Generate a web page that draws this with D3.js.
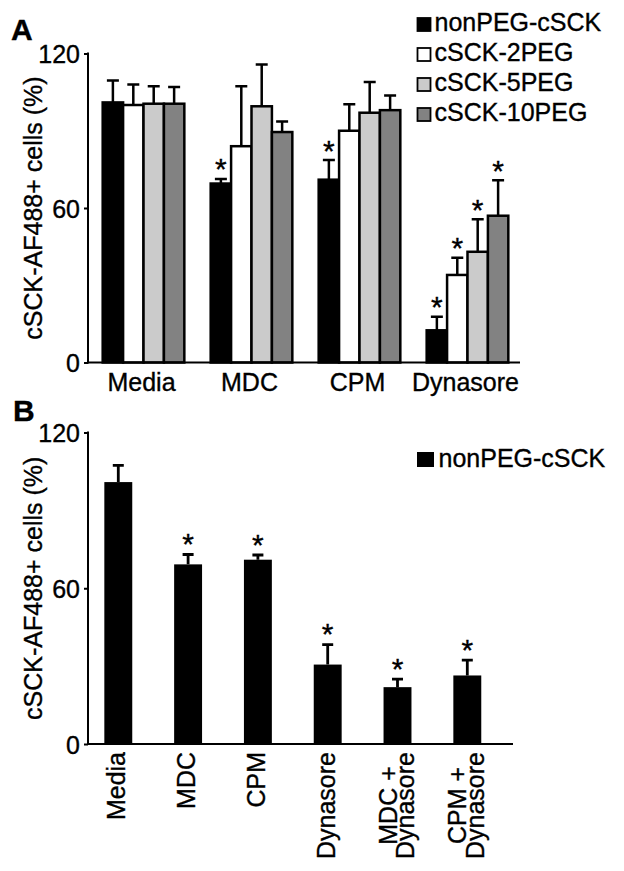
<!DOCTYPE html>
<html><head><meta charset="utf-8">
<script src="https://cdn.jsdelivr.net/npm/d3@7"></script>
<style>
html,body{margin:0;padding:0;background:#fff;}
svg text{font-family:"Liberation Sans",Arial,Helvetica,sans-serif;fill:#000;stroke:#000;stroke-width:0.35px;}
</style></head>
<body>
<svg id="chart" width="624" height="871"></svg>
<script>
// ---------- Panel A data ----------
const categoriesA = ["Media", "MDC", "CPM", "Dynasore"];
const seriesA = ["nonPEG-cSCK", "cSCK-2PEG", "cSCK-5PEG", "cSCK-10PEG"];
const seriesColorsA = ["#000000", "#ffffff", "#cbcbcb", "#828282"];
const valuesNonPEG = [101, 69.5, 71, 12.5];
const valuesPEG2 = [100, 84, 90, 34];
const valuesPEG5 = [100.5, 99.5, 97, 43];
const valuesPEG10 = [100.5, 89.5, 98, 57];
const errNonPEG = [8.5, 1.8, 7.6, 5.3];
const errPEG2 = [8, 23.3, 10.3, 6.7];
const errPEG5 = [6.8, 16.2, 11.9, 12.6];
const errPEG10 = [6.5, 4.1, 5.7, 13.8];
const sigNonPEG = [false, true, true, true];
const sigPEG2 = [false, false, false, true];
const sigPEG5 = [false, false, false, true];
const sigPEG10 = [false, false, false, true];
const yTicksA = [0, 60, 120];

// ---------- Panel B data ----------
const categoriesB = ["Media", "MDC", "CPM", "Dynasore", "MDC +|Dynasore", "CPM +|Dynasore"];
const seriesB = ["nonPEG-cSCK"];
const valuesB = [100.9, 69.2, 71, 30.6, 21.9, 26.4];
const errB = [6.4, 3.8, 1.8, 7.7, 3.1, 5.9];
const sigB = [false, true, true, true, true, true];
const yTicksB = [0, 60, 120];

const yTitle = "cSCK-AF488+ cells (%)";

const svg = d3.select("#chart");
const FS = 25;
const STAR = 30;

// ================= Panel A =================
const valsA = [valuesNonPEG, valuesPEG2, valuesPEG5, valuesPEG10];
const errsA = [errNonPEG, errPEG2, errPEG5, errPEG10];
const sigsA = [sigNonPEG, sigPEG2, sigPEG5, sigPEG10];
const rowsA = [];
categoriesA.forEach((c, ci) => seriesA.forEach((s, si) => rowsA.push({
  cat: c, ser: s, si, v: valsA[si][ci], e: errsA[si][ci], sig: sigsA[si][ci]
})));

const axXA = 88, axEndA = 520;
const yA = d3.scaleLinear().domain([0, 120]).range([362.5, 53.5]);
const x0A = d3.scaleBand().domain(categoriesA).range([88, 523]).paddingInner(0.244).paddingOuter(0.136);
const x1A = d3.scaleBand().domain(seriesA).range([0, x0A.bandwidth()]);
const colorA = d3.scaleOrdinal().domain(seriesA).range(seriesColorsA);

const gA = svg.append("g");
gA.selectAll("rect.bar").data(rowsA).join("rect")
  .attr("class", "bar")
  .attr("x", d => x0A(d.cat) + x1A(d.ser))
  .attr("y", d => yA(d.v))
  .attr("width", x1A.bandwidth())
  .attr("height", d => yA(0) - yA(d.v))
  .attr("fill", d => colorA(d.ser))
  .attr("stroke", "#000").attr("stroke-width", 2.5);
const capA = 12;
gA.selectAll("path.err").data(rowsA).join("path")
  .attr("class", "err")
  .attr("d", d => {
    const cx = x0A(d.cat) + x1A(d.ser) + x1A.bandwidth() / 2;
    const t = yA(d.v + d.e);
    return `M${cx},${yA(d.v)}V${t}M${cx - capA / 2},${t}H${cx + capA / 2}`;
  })
  .attr("stroke", "#000").attr("stroke-width", 2.5).attr("fill", "none");
gA.selectAll("text.star").data(rowsA.filter(d => d.sig)).join("text")
  .attr("class", "star")
  .attr("x", d => x0A(d.cat) + x1A(d.ser) + x1A.bandwidth() / 2)
  .attr("y", d => yA(d.v + d.e) + 0.5)
  .attr("text-anchor", "middle").attr("font-size", STAR)
  .text("*");
const yAxisA = gA.append("g").attr("transform", `translate(${axXA},0)`)
  .call(d3.axisLeft(yA).tickValues(yTicksA).tickSize(4).tickPadding(4));
yAxisA.select(".domain").remove();
yAxisA.selectAll("line").attr("stroke-width", 2);
yAxisA.selectAll("text").attr("font-size", FS).attr("dy", "0.36em")
  .style("font-family", '"Liberation Sans",Arial,sans-serif');
gA.append("line").attr("x1", axXA).attr("x2", axXA).attr("y1", yA(120) - 1).attr("y2", yA(0) + 1)
  .attr("stroke", "#000").attr("stroke-width", 2);
gA.append("line").attr("x1", axXA - 1).attr("x2", axEndA).attr("y1", yA(0)).attr("y2", yA(0))
  .attr("stroke", "#000").attr("stroke-width", 2);
gA.selectAll("text.xl").data(categoriesA).join("text")
  .attr("class", "xl")
  .attr("x", d => x0A(d) + x0A.bandwidth() / 2 - 2)
  .attr("y", 391)
  .attr("text-anchor", "middle").attr("font-size", FS)
  .text(d => d);
gA.append("text")
  .attr("transform", `translate(42,${(yA(0) + yA(120)) / 2}) rotate(-90)`)
  .attr("text-anchor", "middle").attr("font-size", FS)
  .text(yTitle);
gA.append("text").attr("x", 11).attr("y", 40).attr("font-size", 30).attr("font-weight", "bold").text("A");
const legA = gA.append("g");
seriesA.forEach((s, i) => {
  const by = 31 + i * 30;
  legA.append("rect").attr("x", 417.5).attr("y", by - 13).attr("width", 13).attr("height", 13)
    .attr("fill", colorA(s)).attr("stroke", "#000").attr("stroke-width", 1.8);
  legA.append("text").attr("x", 434.5).attr("y", by).attr("font-size", FS).text(s);
});

// ================= Panel B =================
const rowsB = categoriesB.map((c, i) => ({ cat: c, v: valuesB[i], e: errB[i], sig: sigB[i] }));
const axXB = 88, axEndB = 513;
const yB = d3.scaleLinear().domain([0, 120]).range([744, 432.5]);
const xB = d3.scaleBand().domain(categoriesB).range([88, 497.6]).paddingInner(0.6).paddingOuter(0.234);

const gB = svg.append("g");
gB.selectAll("rect.bar").data(rowsB).join("rect")
  .attr("class", "bar")
  .attr("x", d => xB(d.cat))
  .attr("y", d => yB(d.v))
  .attr("width", xB.bandwidth())
  .attr("height", d => yB(0) - yB(d.v))
  .attr("fill", "#000");
const capB = 11;
gB.selectAll("path.err").data(rowsB).join("path")
  .attr("class", "err")
  .attr("d", d => {
    const cx = xB(d.cat) + xB.bandwidth() / 2;
    const t = yB(d.v + d.e);
    return `M${cx},${yB(d.v)}V${t}M${cx - capB / 2},${t}H${cx + capB / 2}`;
  })
  .attr("stroke", "#000").attr("stroke-width", 2.8).attr("fill", "none");
gB.selectAll("text.star").data(rowsB.filter(d => d.sig)).join("text")
  .attr("class", "star")
  .attr("x", d => xB(d.cat) + xB.bandwidth() / 2)
  .attr("y", d => yB(d.v + d.e) - 0.5)
  .attr("text-anchor", "middle").attr("font-size", STAR)
  .text("*");
const yAxisB = gB.append("g").attr("transform", `translate(${axXB},0)`)
  .call(d3.axisLeft(yB).tickValues(yTicksB).tickSize(4).tickPadding(4));
yAxisB.select(".domain").remove();
yAxisB.selectAll("line").attr("stroke-width", 2);
yAxisB.selectAll("text").attr("font-size", FS).attr("dy", "0.36em")
  .style("font-family", '"Liberation Sans",Arial,sans-serif');
gB.append("line").attr("x1", axXB).attr("x2", axXB).attr("y1", yB(120) - 1).attr("y2", yB(0) + 1)
  .attr("stroke", "#000").attr("stroke-width", 2);
gB.append("line").attr("x1", axXB - 1).attr("x2", axEndB).attr("y1", yB(0)).attr("y2", yB(0))
  .attr("stroke", "#000").attr("stroke-width", 2);
const labelTop = 752;
categoriesB.forEach(c => {
  const cx = xB(c) + xB.bandwidth() / 2;
  const lines = c.split("|");
  if (lines.length === 1) {
    gB.append("text")
      .attr("transform", `translate(${cx + 7},${labelTop}) rotate(-90)`)
      .attr("text-anchor", "end").attr("font-size", FS).text(lines[0]);
  } else {
    const t2 = gB.append("text")
      .attr("transform", `translate(${cx + 16.5},${labelTop}) rotate(-90)`)
      .attr("text-anchor", "end").attr("font-size", FS).text(lines[1]);
    const len = t2.node().getComputedTextLength();
    gB.append("text")
      .attr("transform", `translate(${cx - 1},${labelTop + len / 2}) rotate(-90)`)
      .attr("text-anchor", "middle").attr("font-size", FS).text(lines[0]);
  }
});
gB.append("text")
  .attr("transform", `translate(42,${(yB(0) + yB(120)) / 2}) rotate(-90)`)
  .attr("text-anchor", "middle").attr("font-size", FS)
  .text(yTitle);
gB.append("text").attr("x", 13).attr("y", 421).attr("font-size", 30).attr("font-weight", "bold").text("B");
gB.append("rect").attr("x", 417).attr("y", 452).attr("width", 17).attr("height", 15).attr("fill", "#000");
gB.append("text").attr("x", 438.5).attr("y", 467).attr("font-size", FS).text(seriesB[0]);
</script>
</body></html>
